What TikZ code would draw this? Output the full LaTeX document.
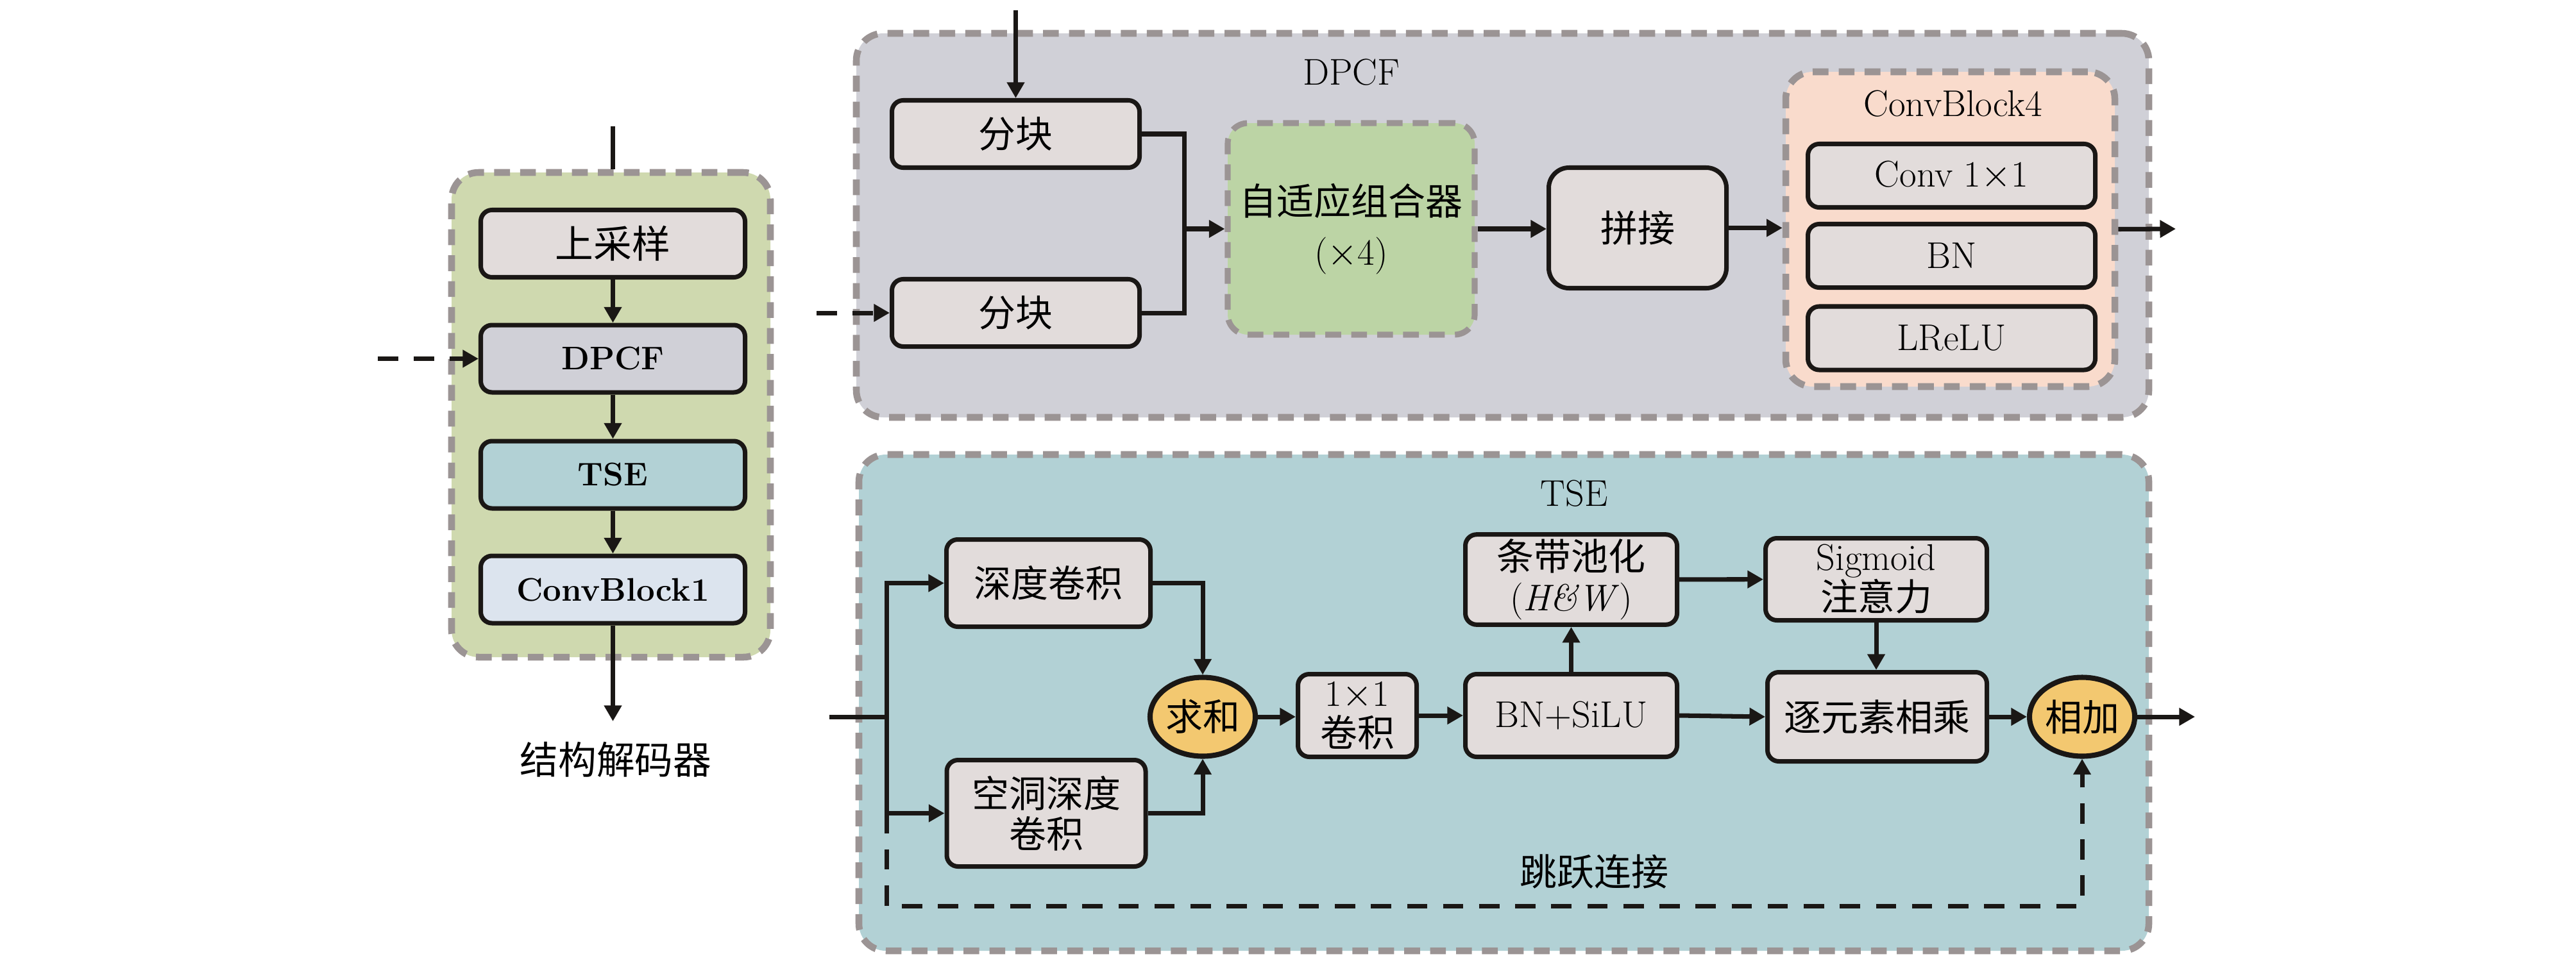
\documentclass[tikz,border=0pt]{standalone}
\usepackage{fontspec}
\newfontfamily\cjk{Noto Sans CJK SC}
\usetikzlibrary{arrows.meta,shapes.geometric}
\definecolor{ink}{RGB}{26,23,21}
\definecolor{dashgray}{RGB}{155,148,148}
\definecolor{boxfill}{RGB}{226,220,219}
\definecolor{decfill}{RGB}{207,217,175}
\definecolor{dpcffill}{RGB}{208,208,215}
\definecolor{tsefill}{RGB}{178,209,213}
\definecolor{cbonefill}{RGB}{220,228,238}
\definecolor{combfill}{RGB}{188,212,165}
\definecolor{peach}{RGB}{249,219,204}
\definecolor{sumfill}{RGB}{243,200,112}
\newcommand{\zh}[1]{{\cjk\mdseries #1}}
\newcommand{\zhl}[1]{{\cjk\mdseries\fontsize{17}{19}\selectfont #1}}
\begin{document}
\begin{tikzpicture}[
        conn/.style={line width=2pt,draw=ink},
        arr/.style={conn,-{Triangle[length=7pt,width=7.5pt]}},
        dasharr/.style={arr,dash pattern=on 9pt off 7pt},
        panel/.style={draw=dashgray,line width=3pt,dash pattern=on 7pt off 4.5pt,rounded corners=12pt},
        box/.style={draw=ink,line width=2pt,rounded corners=5pt,fill=boxfill,align=center,inner sep=2pt,font=\fontsize{16.5}{18}\selectfont},
        lbox/.style={box,minimum width=4.12cm,minimum height=1.05cm,font=\fontsize{14.5}{17}\selectfont\bfseries},
        sumnode/.style={ellipse,draw=ink,line width=2.3pt,fill=sumfill,minimum width=1.48cm,minimum height=1.23cm,inner sep=0pt,font=\fontsize{16.5}{18}\selectfont},
        title/.style={font=\fontsize{16.5}{18}\selectfont}
    ]
        \useasboundingbox (0,0) rectangle (40.16,-15.12);

        \node[panel,fill=decfill,minimum width=4.97cm,minimum height=7.56cm] (dec) at (9.525,-6.47) {};
        \node[lbox] (up) at (9.555,-3.80) {\zhl{上采样}};
        \node[lbox,fill=dpcffill] (dpcfl) at (9.555,-5.595) {DPCF};
        \node[lbox,fill=tsefill] (tsel) at (9.555,-7.405) {TSE};
        \node[lbox,fill=cbonefill] (cbone) at (9.555,-9.195) {ConvBlock1};
        \node[title] (declab) at (9.6,-11.85) {\zhl{结构解码器}};

        \coordinate (lin) at (9.555,-1.97);
        \coordinate (lskip) at (5.89,-5.595);
        \coordinate (lout) at (9.555,-11.25);
        \draw[conn] (lin) -- (lin |- dec.north);
        \draw[arr] (up) -- (dpcfl);
        \draw[arr] (dpcfl) -- (tsel);
        \draw[arr] (tsel) -- (cbone);
        \draw[arr] (cbone) -- (lout);
        \draw[dasharr] (lskip) -- (dpcfl.west);

        \node[panel,fill=dpcffill,minimum width=20.15cm,minimum height=5.99cm] (dpcf) at (23.425,-3.515) {};
        \node[title] (dpcflab) at (21.07,-1.13) {DPCF};
        \node[box,minimum width=3.86cm,minimum height=1.05cm] (splita) at (15.835,-2.09) {\zh{分块}};
        \node[box,minimum width=3.86cm,minimum height=1.05cm] (splitb) at (15.835,-4.88) {\zh{分块}};
        \node[box,panel,fill=combfill,line width=2.6pt,rounded corners=9pt,minimum width=3.85cm,minimum height=3.3cm,font=\fontsize{16.5}{22}\selectfont] (comb) at (21.065,-3.57) {\zh{自适应组合器}\\($\times$4)};
        \node[box,rounded corners=9pt,minimum width=2.77cm,minimum height=1.88cm] (concat) at (25.53,-3.555) {\zh{拼接}};
        \node[panel,fill=peach,minimum width=5.13cm,minimum height=4.91cm] (cbfour) at (30.405,-3.575) {};
        \node[title] (cblab) at (30.45,-1.62) {ConvBlock4};
        \node[box,minimum width=4.48cm,minimum height=0.99cm] (conv) at (30.425,-2.74) {Conv 1$\times$1};
        \node[box,minimum width=4.48cm,minimum height=0.99cm] (bn) at (30.425,-3.99) {BN};
        \node[box,minimum width=4.48cm,minimum height=0.99cm] (lrelu) at (30.425,-5.275) {LReLU};

        \coordinate (din) at (15.835,-0.16);
        \coordinate (dskip) at (12.73,-4.88);
        \coordinate (jn) at (18.46,-3.57);
        \coordinate (dout) at (33.92,-3.57);
        \draw[arr] (din) -- (splita.north);
        \draw[dasharr] (dskip) -- (splitb.west);
        \draw[conn] (splita.east) -| (jn);
        \draw[conn] (splitb.east) -| (jn);
        \draw[arr] (jn) -- (comb.west);
        \draw[arr] (comb.east) -- (comb.east -| concat.west);
        \draw[arr] (concat.east) -- (concat.east -| cbfour.west);
        \draw[arr] (cbfour.east) -- (dout);

        \node[panel,fill=tsefill,minimum width=20.11cm,minimum height=7.74cm] (tse) at (23.445,-10.96) {};
        \node[title] (tselab) at (24.54,-7.70) {TSE};
        \node[box,minimum width=3.18cm,minimum height=1.36cm] (dw) at (16.345,-9.095) {\zh{深度卷积}};
        \node[box,minimum width=3.1cm,minimum height=1.66cm] (adw) at (16.31,-12.685) {\zh{空洞深度}\\\zh{卷积}};
        \node[sumnode] (sum) at (18.75,-11.18) {\zh{求和}};
        \node[box,minimum width=1.85cm,minimum height=1.29cm] (convone) at (21.16,-11.16) {1$\times$1\\\zh{卷积}};
        \node[box,minimum width=3.3cm,minimum height=1.29cm] (bnsilu) at (24.495,-11.16) {BN+SiLU};
        \node[box,minimum width=3.3cm,minimum height=1.27cm] (strip) at (24.495,-9.04) {\zh{条带池化}\\(\textit{H\&W})};
        \node[box,minimum width=3.45cm,minimum height=1.28cm] (sig) at (29.25,-9.035) {Sigmoid\\\zh{注意力}};
        \node[box,minimum width=3.42cm,minimum height=1.39cm] (mul) at (29.265,-11.18) {\zh{逐元素相乘}};
        \node[sumnode] (add) at (32.46,-11.18) {\zh{相加}};
        \node[title] (skiplab) at (24.85,-13.60) {\zh{跳跃连接}};

        \coordinate (tin) at (12.93,-11.18);
        \coordinate (tj) at (13.82,-11.18);
        \coordinate (sk) at (13.82,-14.13);
        \coordinate (tout) at (34.22,-11.18);
        \draw[conn] (tin) -- (tj);
        \draw[arr] (tj) |- (dw.west);
        \draw[arr] (tj) |- (adw.west);
        \draw[arr] (dw.east) -| (sum.north);
        \draw[arr] (adw.east) -| (sum.south);
        \draw[arr] (sum.east) -- (sum.east -| convone.west);
        \draw[arr] (convone) -- (bnsilu);
        \draw[arr] (bnsilu) -- (strip);
        \draw[arr] (strip) -- (sig);
        \draw[arr] (sig.south) -- (sig.south |- mul.north);
        \draw[arr] (bnsilu.east) -- (mul.west);
        \draw[arr] (mul) -- (add);
        \draw[arr] (add) -- (tout);
        \draw[dasharr] (tj |- adw.west) -- (sk) -| (add.south);
    \end{tikzpicture}
\end{document}
